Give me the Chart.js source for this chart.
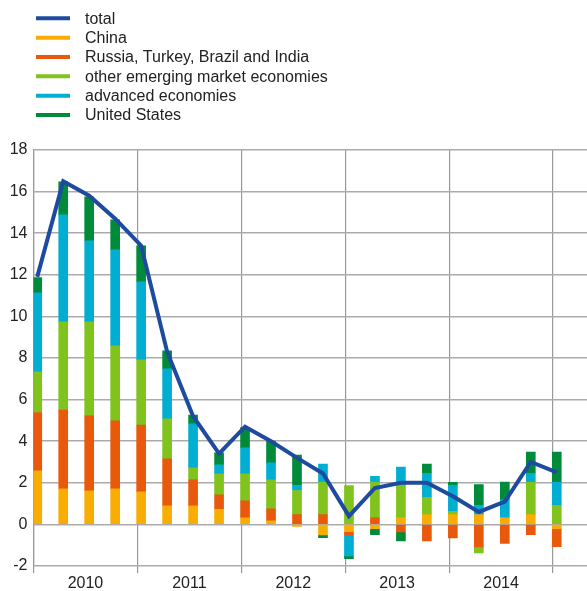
<!DOCTYPE html>
<html><head><meta charset="utf-8">
<script src="https://cdn.jsdelivr.net/npm/chart.js@4/dist/chart.umd.min.js"></script>
<style>html,body{margin:0;padding:0;background:#fff}#wrap{width:587px;height:591px;position:relative}</style>
</head><body><div id="wrap"><canvas id="c" width="587" height="591"></canvas></div>
<script>
const quarters = ['2010Q1','2010Q2','2010Q3','2010Q4','2011Q1','2011Q2','2011Q3','2011Q4','2012Q1','2012Q2','2012Q3','2012Q4','2013Q1','2013Q2','2013Q3','2013Q4','2014Q1','2014Q2','2014Q3','2014Q4','2015Q1'];
const total    = [11.9, 16.5, 15.8, 14.7, 13.4, 8.3, 5.2, 3.4, 4.7, 4.0, 3.2, 2.45, 0.4, 1.75, 2.0, 2.0, 1.35, 0.6, 1.1, 3.0, 2.5];
const china    = [2.57, 1.71, 1.61, 1.71, 1.56, 0.89, 0.89, 0.73, 0.31, 0.17, -0.10, -0.50, -0.35, -0.20, 0.32, 0.47, 0.47, 0.47, 0.32, 0.47, -0.20];
const rtbi     = [2.81, 3.79, 3.61, 3.27, 3.22, 2.26, 1.25, 0.69, 0.82, 0.58, 0.47, 0.47, -0.14, 0.33, -0.36, -0.79, -0.65, -1.08, -0.92, -0.49, -0.87];
const otherEme = [1.95, 4.24, 4.52, 3.60, 3.13, 1.92, 0.58, 1.01, 1.30, 1.39, 1.16, 1.57, 1.87, 1.71, 1.55, 0.83, 0.15, -0.29, 0.00, 1.55, 0.91];
const advanced = [3.80, 5.14, 3.89, 4.62, 3.75, 2.41, 2.11, 0.43, 1.25, 0.82, 0.24, 0.86, -1.03, 0.27, 0.88, 1.16, 1.25, 0.44, 0.86, 0.44, 1.11];
const us       = [0.74, 1.59, 2.12, 1.44, 1.73, 0.86, 0.43, 0.58, 0.97, 1.05, 1.46, -0.14, -0.13, -0.29, -0.44, 0.44, 0.15, 1.01, 0.86, 1.02, 1.46];
const seriesNames = ['total','China','Russia, Turkey, Brazil and India','other emerging market economies','advanced economies','United States'];
const yearLabels = ['2010','2011','2012','2013','2014'];
const yTicks = [-2,0,2,4,6,8,10,12,14,16,18];

const colors = ['#1e4ba0','#f8ad00','#e9590c','#7fc31c','#00aed2','#008b3a'];
const xPos = quarters.map(q => +q.slice(0,4) + (+q.slice(5)-1)/4 + 0.036);
const pts = arr => arr.map((v,i) => ({x: xPos[i], y: v}));

const barSeries = [china, rtbi, otherEme, advanced, us];
const datasets = [{
  type:'line', label: seriesNames[0], data: pts(total), borderColor: colors[0], backgroundColor: colors[0],
  borderWidth: 4, pointRadius: 0, tension: 0, order: 0
}];
barSeries.forEach((s,k) => datasets.push({
  type:'bar', label: seriesNames[k+1], data: pts(s), backgroundColor: colors[k+1], borderWidth: 0,
  barThickness: 9, order: 1, stack: 's'
}));

const legendPlugin = {
  id: 'leftLegend',
  afterDraw(chart) {
    const ctx = chart.ctx;
    ctx.save();
    seriesNames.forEach((name, i) => {
      const y = 18.3 + i * 19.35;
      ctx.strokeStyle = colors[i];
      ctx.lineWidth = 4;
      ctx.beginPath(); ctx.moveTo(36, y); ctx.lineTo(70, y); ctx.stroke();
      ctx.fillStyle = '#222';
      ctx.font = '16px "Liberation Sans", Arial, sans-serif';
      ctx.textBaseline = 'middle';
      ctx.fillText(name, 85, y + 1);
    });
    ctx.restore();
  }
};

new Chart(document.getElementById('c'), {
  data: { datasets },
  plugins: [legendPlugin],
  options: {
    responsive: false, animation: false,
    layout: { padding: { top: 150, left: 0, right: 0, bottom: 0 } },
    plugins: { legend: { display: false }, tooltip: { enabled: false } },
    scales: {
      x: {
        type: 'linear', min: 2010, max: 2015.327, stacked: true, offset: false,
        afterBuildTicks: ax => {
          const t = [];
          yearLabels.forEach(y => { t.push({value: +y}); t.push({value: +y + 0.5}); });
          t.push({value: +yearLabels[yearLabels.length-1] + 1});
          ax.ticks = t;
        },
        afterFit: ax => { ax.height = 25; },
        grid: {
          offset: false,
          color: c => (c.tick && c.tick.value % 1 === 0) ? '#999999' : 'rgba(0,0,0,0)',
          lineWidth: 1.2, drawTicks: true, tickLength: 7,
          tickColor: c => (c.tick && c.tick.value % 1 === 0) ? '#999999' : 'rgba(0,0,0,0)'
        },
        border: { display: false },
        ticks: {
          autoSkip: false, maxRotation: 0, padding: 1, color: '#222',
          font: { size: 16, family: '"Liberation Sans", Arial, sans-serif' },
          callback: v => (Math.abs(v % 1 - 0.5) < 1e-6) ? String(Math.floor(v)) : ''
        }
      },
      y: {
        stacked: true, min: -2, max: 18,
        afterBuildTicks: ax => { ax.ticks = yTicks.map(v => ({value: v})); },
        afterFit: ax => { ax.width = 33.5; },
        grid: { color: '#ababab', lineWidth: 1.5, drawTicks: false },
        border: { display: true, color: '#999999', width: 1.2 },
        ticks: { padding: 6, color: '#222', font: { size: 16, family: '"Liberation Sans", Arial, sans-serif' } }
      }
    }
  }
});
</script></body></html>
